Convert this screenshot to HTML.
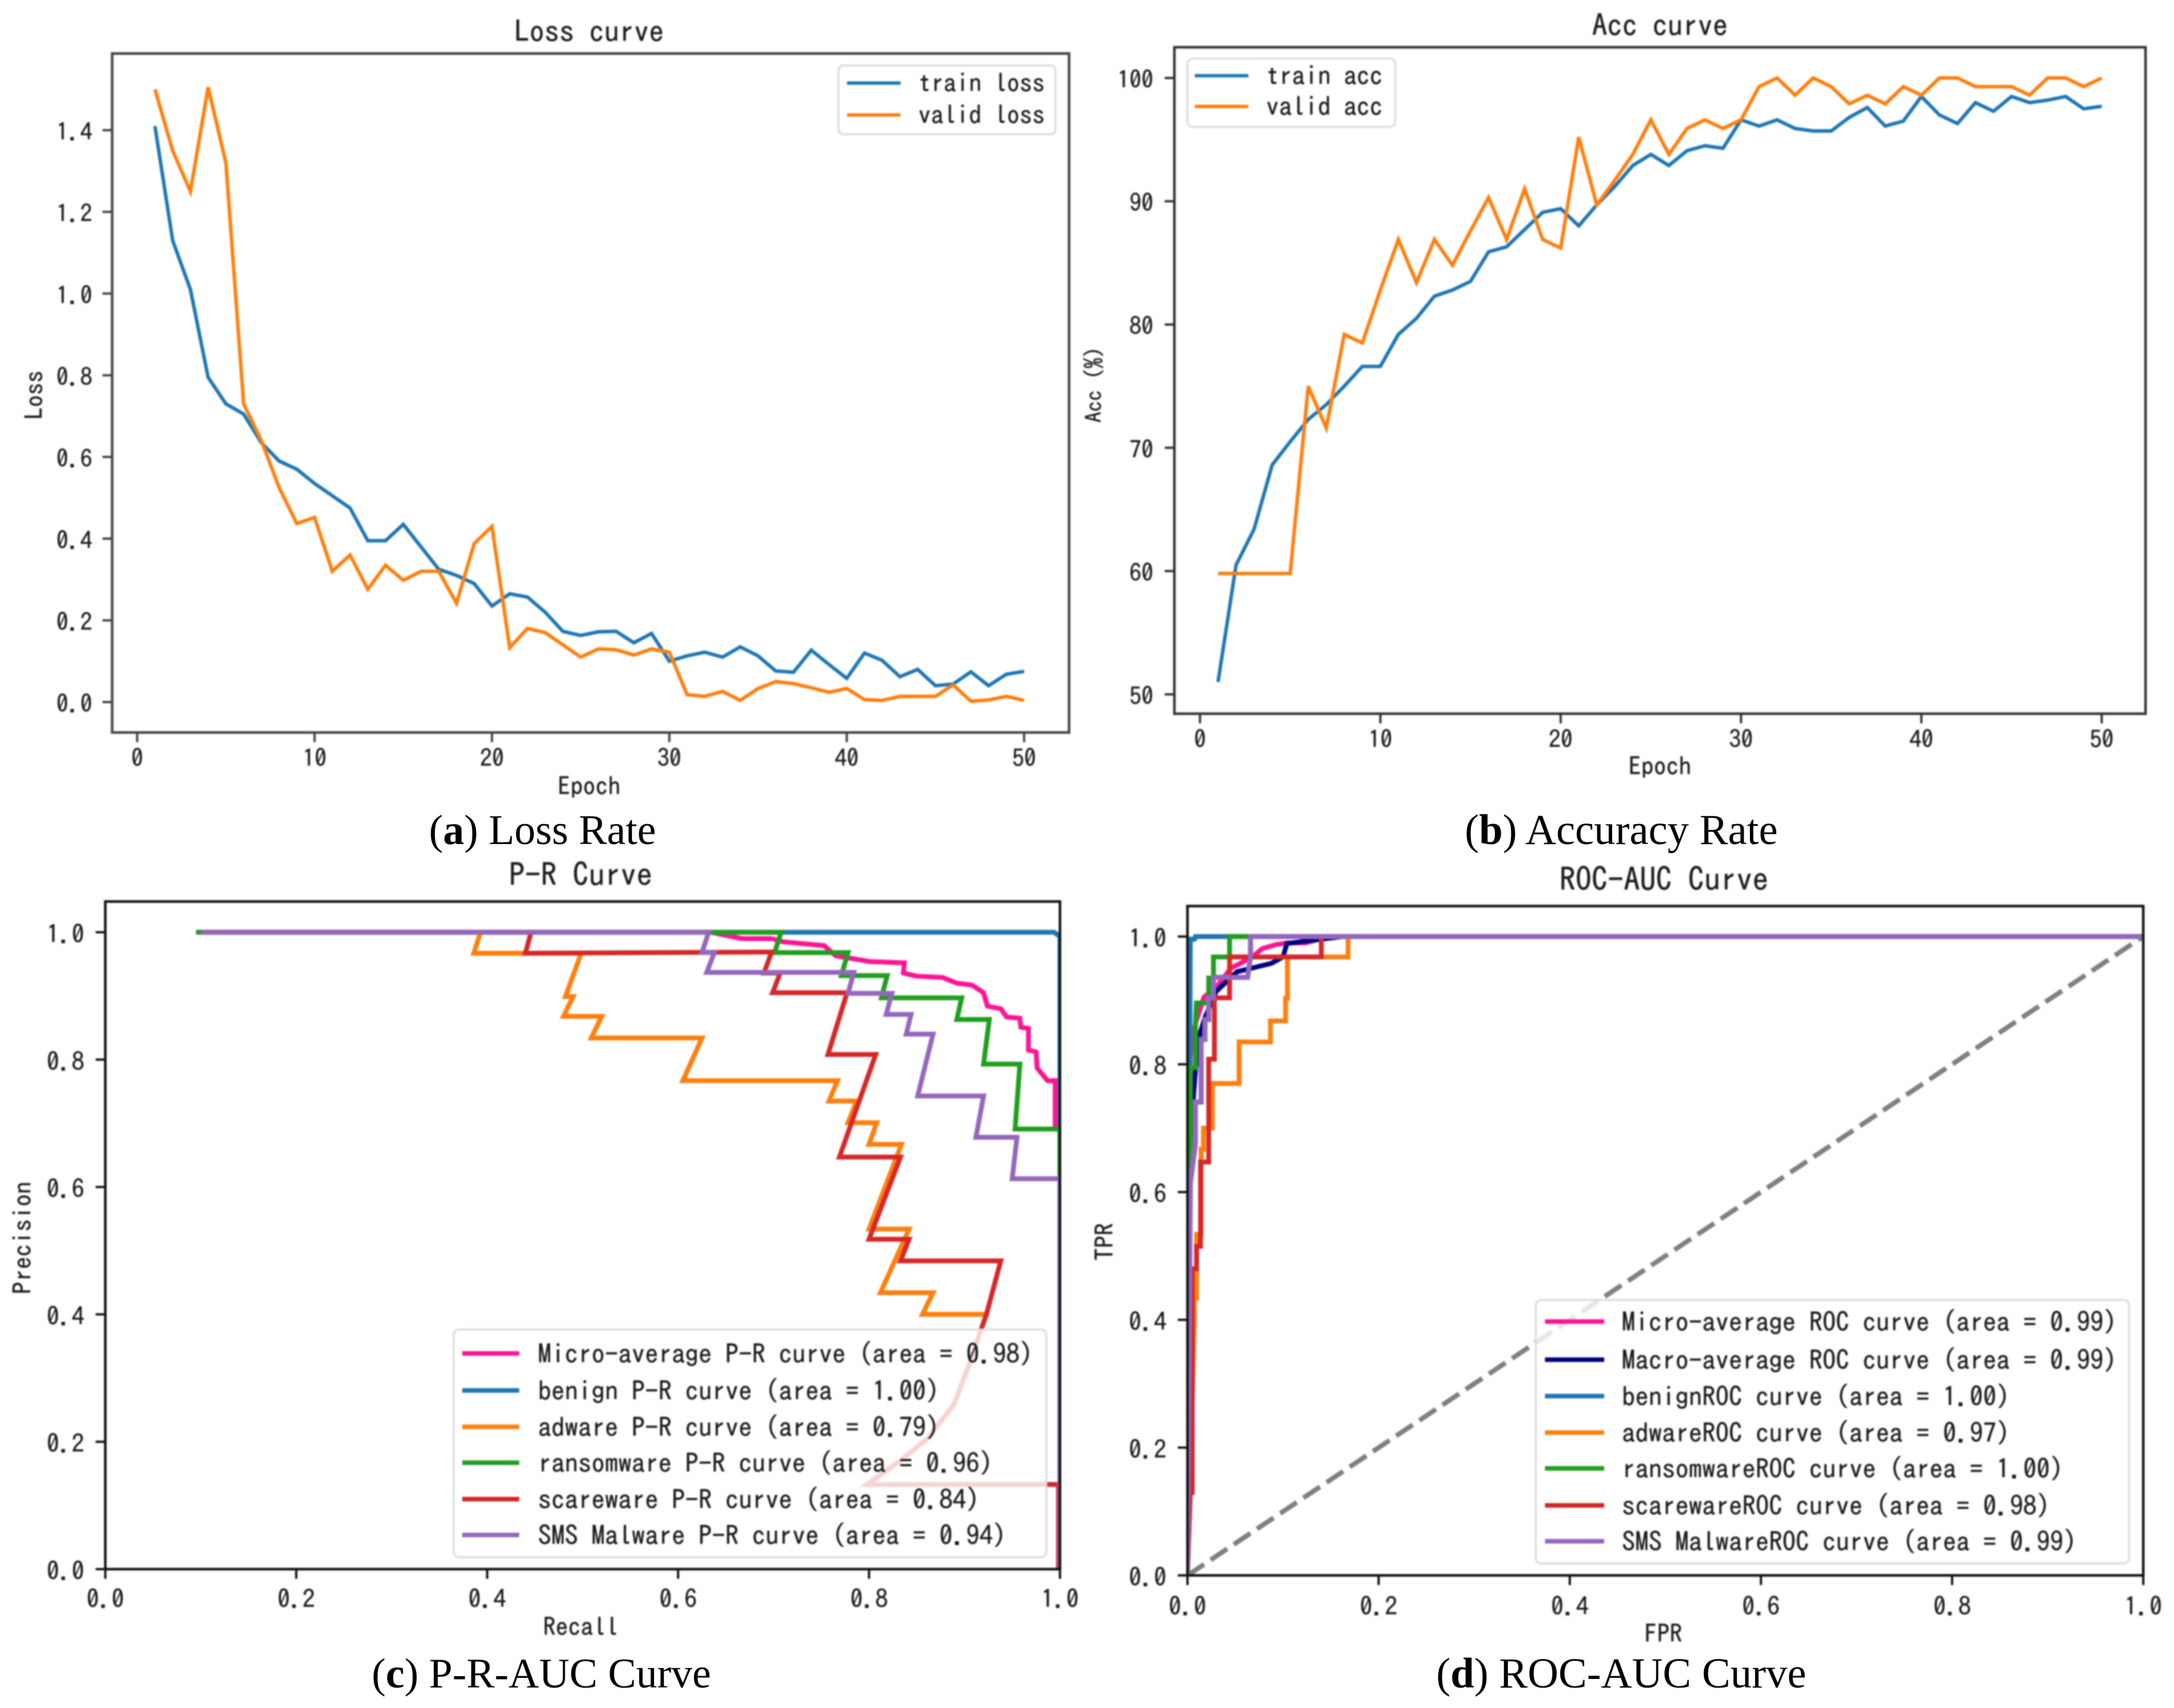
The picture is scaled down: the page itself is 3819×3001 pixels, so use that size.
<!DOCTYPE html>
<html lang="en">
<head>
<meta charset="utf-8">
<title>Training curves</title>
<style>
html,body{margin:0;padding:0;background:#fff;}
svg{display:block;}
.m{font-family:"IPAGothic","Liberation Mono",monospace;fill:#1c1c1c;stroke:#1c1c1c;stroke-width:.5;}
.cap{font-family:"Liberation Serif",serif;font-size:74px;fill:#000;text-anchor:middle;}
.leg{fill:rgba(255,255,255,0.8);stroke:#dcdcdc;stroke-width:3.5;}
</style>
</head>
<body>
<svg id="root" xmlns="http://www.w3.org/2000/svg" width="3819" height="3001" viewBox="0 0 3819 3001">
<defs>
<clipPath id="clip-c"><rect x="185" y="1584" width="1677" height="1173"/></clipPath>
<clipPath id="clip-d"><rect x="2086" y="1592" width="1679" height="1176"/></clipPath>
</defs>
<rect x="0" y="0" width="3819" height="3001" fill="#fff"/>
<g id="plots" style="filter:blur(1.2px)">
<g id="panel-a">
<text class="m" x="1035" y="55" font-size="52.5" text-anchor="middle" dominant-baseline="central">Loss curve</text>
<text class="m" x="1035" y="1381" font-size="44" text-anchor="middle" dominant-baseline="central">Epoch</text>
<text class="m" font-size="43" text-anchor="middle" dominant-baseline="central" transform="translate(60 694) rotate(-90)">Loss</text>
</g>
<g id="panel-b">
<text class="m" x="2916" y="44" font-size="53" text-anchor="middle" dominant-baseline="central">Acc curve</text>
<text class="m" x="2916" y="1346" font-size="44" text-anchor="middle" dominant-baseline="central">Epoch</text>
<text class="m" font-size="38" text-anchor="middle" dominant-baseline="central" transform="translate(1921 676) rotate(-90)">Acc (%)</text>
</g>
<g id="panel-c">
<text class="m" x="1020" y="1536" font-size="56" text-anchor="middle" dominant-baseline="central">P-R Curve</text>
<text class="m" x="1020" y="2858" font-size="44" text-anchor="middle" dominant-baseline="central">Recall</text>
<text class="m" font-size="44" text-anchor="middle" dominant-baseline="central" transform="translate(39 2175) rotate(-90)">Precision</text>
</g>
<g id="panel-d">
<text class="m" x="2923" y="1544" font-size="56.5" text-anchor="middle" dominant-baseline="central">ROC-AUC Curve</text>
<text class="m" x="2922" y="2870" font-size="44" text-anchor="middle" dominant-baseline="central">FPR</text>
<text class="m" font-size="44" text-anchor="middle" dominant-baseline="central" transform="translate(1940 2182) rotate(-90)">TPR</text>
</g>
</g>
<g id="captions">
<text class="cap" x="953" y="1483">(<tspan font-weight="bold">a</tspan>) Loss Rate</text>
<text class="cap" x="2848" y="1483" font-size="75" style="font-size:75px">(<tspan font-weight="bold">b</tspan>) Accuracy Rate</text>
<text class="cap" x="951" y="2965">(<tspan font-weight="bold">c</tspan>) P-R-AUC Curve</text>
<text class="cap" x="2848" y="2965" style="font-size:75px">(<tspan font-weight="bold">d</tspan>) ROC-AUC Curve</text>
</g>
</svg>
<script>
// ---- data: loss and accuracy per epoch ----
const epochs = [1,2,3,4,5,6,7,8,9,10,11,12,13,14,15,16,17,18,19,20,21,22,23,24,25,26,27,28,29,30,31,32,33,34,35,36,37,38,39,40,41,42,43,44,45,46,47,48,49,50];
const trainLoss = [1.41,1.13,1.01,.795,.73,.705,.635,.59,.57,.535,.505,.475,.395,.395,.435,.38,.325,.31,.29,.235,.265,.257,.22,.173,.163,.172,.173,.145,.168,.10,.113,.122,.11,.135,.113,.076,.073,.127,.092,.058,.12,.102,.062,.08,.04,.044,.074,.04,.068,.075];
const validLoss = [1.5,1.35,1.25,1.505,1.32,.73,.64,.525,.437,.452,.32,.36,.276,.335,.298,.32,.32,.242,.388,.43,.133,.18,.17,.14,.11,.13,.128,.115,.13,.122,.018,.014,.026,.004,.033,.05,.045,.035,.024,.033,.006,.004,.014,.014,.014,.042,.002,.005,.014,.004];
const trainAcc = [51,60.5,63.4,68.6,70.5,72.3,73.5,75,76.6,76.6,79.2,80.5,82.3,82.8,83.5,85.9,86.3,87.7,89.1,89.4,88,89.7,91.2,92.9,93.8,92.9,94.1,94.5,94.3,96.6,96.1,96.6,95.9,95.7,95.7,96.8,97.6,96.1,96.5,98.5,97,96.3,98,97.3,98.5,98,98.2,98.5,97.5,97.7];
const validAcc = [59.8,59.8,59.8,59.8,59.8,75,71.6,79.2,78.5,82.8,86.9,83.4,86.9,84.8,87.6,90.3,86.9,91,86.9,86.2,95.2,89.7,91.7,93.8,96.6,93.8,95.9,96.6,95.9,96.6,99.3,100,98.6,100,99.3,97.9,98.6,97.9,99.3,98.6,100,100,99.3,99.3,99.3,98.6,100,100,99.3,100];

// ---- data: P-R curves ----
const prMicroRecall = [.1,.634,.667,.698,.71,.753,.765,.801,.837,.836,.85,.877,.892,.908,.92,.924,.938,.944,.958,.959,.967,.967,.975,.976,.987,.995,.995,1,1];
const prMicroPrecision = [1,1,.99,.99,.985,.979,.963,.954,.952,.936,.931,.929,.92,.917,.905,.884,.88,.867,.865,.851,.849,.815,.812,.787,.767,.767,.696,.69,0];
const prBenignRecall = [.1,.994,1,1];
const prBenignPrecision = [1,1,.993,0];
const prAdwareRecall = [.1,.393,.386,.4985,.482,.49,.48,.52,.509,.625,.605,.767,.758,.787,.778,.808,.8,.834,.8,.842,.812,.867,.856,.923,.918,.905,.889,.862,.835,.798,.9985,.9985];
const prAdwarePrecision = [1,1,.967,.967,.899,.899,.868,.868,.834,.834,.767,.767,.735,.735,.701,.701,.667,.667,.534,.534,.434,.434,.4,.4,.379,.322,.259,.206,.173,.133,.133,0];
const prRansomRecall = [.095,.708,.701,.778,.771,.819,.813,.897,.892,.926,.92,.958,.953,1,1];
const prRansomPrecision = [1,1,.968,.968,.932,.932,.897,.897,.863,.863,.793,.793,.691,.691,0];
const prScareRecall = [.1,.446,.44,.698,.69,.707,.699,.777,.757,.807,.769,.833,.8,.842,.833,.938,.923,.918,.905,.889,.862,.835,.798,.9985,.9985];
const prScarePrecision = [1,1,.967,.969,.936,.936,.905,.905,.808,.808,.647,.647,.518,.518,.484,.484,.4,.379,.322,.259,.206,.173,.133,.133,0];
const prSmsRecall = [.1,.632,.625,.638,.63,.784,.778,.824,.818,.844,.839,.867,.851,.92,.912,.955,.95,1,1];
const prSmsPrecision = [1,1,.968,.968,.937,.937,.904,.904,.871,.871,.84,.84,.743,.743,.678,.678,.613,.613,0];

// ---- data: ROC curves ----
const rocMicroFpr = [0,.003,.0084,.0173,.032,.045,.068,.078,.0918,.104,.124,.14,.163,1];
const rocMicroTpr = [0,.813,.864,.905,.924,.95,.968,.981,.987,.99,.99,.997,1,1];
const rocMacroFpr = [0,.003,.0083,.0133,.018,.03,.052,.0878,.1,.104,.135,.163,1];
const rocMacroTpr = [0,.683,.79,.849,.872,.914,.945,.958,.968,.989,.995,1,1];
const rocBenignFpr = [0,.003,.0074,.0083,1];
const rocBenignTpr = [0,.996,.996,1,1];
const rocAdwareFpr = [0,.0072,.0072,.0095,.0095,.0143,.0143,.0167,.0167,.026,.026,.054,.054,.0868,.0868,.1026,.1026,.1046,.1046,.168,.168,1];
const rocAdwareTpr = [0,.4,.434,.434,.534,.534,.667,.667,.7,.7,.77,.77,.835,.835,.868,.868,.903,.903,.968,.968,1,1];
const rocRansomFpr = [0,.003,.003,.0084,.0084,.0093,.0222,.0222,.0272,.0272,.0441,.0441,1];
const rocRansomTpr = [0,.685,.795,.795,.864,.896,.896,.935,.935,.968,.968,1,1];
const rocScareFpr = [0,.003,.005,.005,.0095,.0095,.0137,.0137,.0222,.0222,.0282,.0282,.0441,.0441,.14,.14,1];
const rocScareTpr = [0,.13,.13,.48,.48,.515,.515,.647,.647,.808,.808,.904,.904,.968,.968,1,1];
const rocSmsFpr = [0,.003,.003,.0083,.0083,.0143,.0143,.0183,.0183,.0222,.0222,.0272,.0272,.0629,.066,.066,1];
const rocSmsTpr = [0,.614,.614,.676,.741,.741,.839,.839,.87,.87,.904,.904,.936,.936,.969,1,1];
const chanceFpr = [0,1];
const chanceTpr = [0,1];

// ---- ticks ----
const epochTicks = [0,10,20,30,40,50];
const epochTickLabels = ['0','10','20','30','40','50'];
const lossTicks = [0,.2,.4,.6,.8,1,1.2,1.4];
const lossTickLabels = ['0.0','0.2','0.4','0.6','0.8','1.0','1.2','1.4'];
const accTicks = [50,60,70,80,90,100];
const accTickLabels = ['50','60','70','80','90','100'];
const unitTicks = [0,.2,.4,.6,.8,1];
const unitTickLabels = ['0.0','0.2','0.4','0.6','0.8','1.0'];

// ---- legend labels ----
const lossLegend = ['train loss','valid loss'];
const accLegend = ['train acc','valid acc'];
const prLegend = ['Micro-average P-R curve (area = 0.98)','benign P-R curve (area = 1.00)','adware P-R curve (area = 0.79)','ransomware P-R curve (area = 0.96)','scareware P-R curve (area = 0.84)','SMS Malware P-R curve (area = 0.94)'];
const rocLegend = ['Micro-average ROC curve (area = 0.99)','Macro-average ROC curve (area = 0.99)','benignROC curve (area = 1.00)','adwareROC curve (area = 0.97)','ransomwareROC curve (area = 1.00)','scarewareROC curve (area = 0.98)','SMS MalwareROC curve (area = 0.99)'];

const NS = 'http://www.w3.org/2000/svg';
const BLUE = '#1f77b4', ORANGE = '#ff7f0e', GREEN = '#1f9e1f', RED = '#d62728', PURPLE = '#9467bd', PINK = '#ff1493', NAVY = '#000080';

function scale(d0, d1, r0, r1) {
  return function (v) { return r0 + (v - d0) * (r1 - r0) / (d1 - d0); };
}
function svgEl(tag, parent) {
  const el = document.createElementNS(NS, tag);
  parent.appendChild(el);
  return el;
}
function drawSeries(parent, xs, ys, sx, sy, color, width, name, clip, dash) {
  const path = svgEl('path', parent);
  let d = '';
  for (let i = 0; i < xs.length; i++) {
    d += (i ? 'L' : 'M') + sx(xs[i]).toFixed(1) + ' ' + sy(ys[i]).toFixed(1);
  }
  path.setAttribute('d', d);
  path.setAttribute('fill', 'none');
  path.setAttribute('stroke', color);
  path.setAttribute('stroke-width', width);
  path.setAttribute('stroke-linejoin', 'miter');
  if (clip) path.setAttribute('clip-path', 'url(#' + clip + ')');
  if (dash) path.setAttribute('stroke-dasharray', dash);
  
  
}
function drawAxes(parent, box, sx, sy, xTicks, xLabels, yTicks, yLabels, o) {
  const frame = svgEl('rect', parent);
  frame.setAttribute('x', box.left);
  frame.setAttribute('y', box.top);
  frame.setAttribute('width', box.right - box.left);
  frame.setAttribute('height', box.bottom - box.top);
  frame.setAttribute('fill', 'none');
  frame.setAttribute('stroke', o.spine);
  frame.setAttribute('stroke-width', 4.5);
  
  
  xTicks.forEach(function (t, i) {
    const tick = svgEl('line', parent);
    tick.setAttribute('x1', sx(t));
    tick.setAttribute('x2', sx(t));
    tick.setAttribute('y1', box.bottom);
    tick.setAttribute('y2', box.bottom + 17);
    tick.setAttribute('stroke', o.spine);
    tick.setAttribute('stroke-width', 4);
    
    
    const label = svgEl('text', parent);
    label.setAttribute('class', 'm');
    label.setAttribute('x', sx(t));
    label.setAttribute('y', box.bottom + o.xGap);
    label.setAttribute('font-size', o.tickSize);
    label.setAttribute('text-anchor', 'middle');
    label.setAttribute('dominant-baseline', 'central');
    label.textContent = xLabels[i];
    
    
  });
  yTicks.forEach(function (t, i) {
    const tick = svgEl('line', parent);
    tick.setAttribute('x1', box.left - 17);
    tick.setAttribute('x2', box.left);
    tick.setAttribute('y1', sy(t));
    tick.setAttribute('y2', sy(t));
    tick.setAttribute('stroke', o.spine);
    tick.setAttribute('stroke-width', 4);
    
    
    const label = svgEl('text', parent);
    label.setAttribute('class', 'm');
    label.setAttribute('x', box.left - o.yGap);
    label.setAttribute('y', sy(t) + 3);
    label.setAttribute('font-size', o.tickSize);
    label.setAttribute('text-anchor', 'end');
    label.setAttribute('dominant-baseline', 'central');
    label.textContent = yLabels[i];
    
    
  });
}
function drawLegend(parent, box, labels, colors, rows, lineX0, lineX1, textX, size, lineWidth) {
  const group = svgEl('g', parent);
  
  
  const bg = svgEl('rect', group);
  bg.setAttribute('x', box.left);
  bg.setAttribute('y', box.top);
  bg.setAttribute('width', box.right - box.left);
  bg.setAttribute('height', box.bottom - box.top);
  bg.setAttribute('rx', 9);
  bg.setAttribute('class', 'leg');
  
  
  labels.forEach(function (txt, i) {
    const swatch = svgEl('line', group);
    swatch.setAttribute('x1', lineX0);
    swatch.setAttribute('x2', lineX1);
    swatch.setAttribute('y1', rows[i]);
    swatch.setAttribute('y2', rows[i]);
    swatch.setAttribute('stroke', colors[i]);
    swatch.setAttribute('stroke-width', lineWidth);
    
    
    const label = svgEl('text', group);
    label.setAttribute('class', 'm');
    label.setAttribute('x', textX);
    label.setAttribute('y', rows[i]);
    label.setAttribute('font-size', size);
    label.setAttribute('dominant-baseline', 'central');
    label.textContent = txt;
    
    
  });
}

// Panel (a)
(function () {
  const g = document.getElementById('panel-a');
  const box = {left: 197, right: 1878, top: 94, bottom: 1287};
  const sx = scale(0, 50, 241, 1799), sy = scale(0, 1.4, 1233.5, 228.7);
  drawSeries(g, epochs, trainLoss, sx, sy, BLUE, 6.2, 'train-loss-line');
  drawSeries(g, epochs, validLoss, sx, sy, ORANGE, 6.2, 'valid-loss-line');
  drawAxes(g, box, sx, sy, epochTicks, epochTickLabels, lossTicks, lossTickLabels, {spine: '#444', tickSize: 42, xGap: 45, yGap: 35});
  drawLegend(g, {left: 1473, right: 1854, top: 115, bottom: 236}, lossLegend, [BLUE, ORANGE], [146, 202], 1488, 1582, 1613, 44.5, 6);
})();
// Panel (b)
(function () {
  const g = document.getElementById('panel-b');
  const box = {left: 2063, right: 3769, top: 83, bottom: 1254};
  const sx = scale(0, 50, 2108, 3692), sy = scale(50, 100, 1220, 137);
  drawSeries(g, epochs, trainAcc, sx, sy, BLUE, 6.2, 'train-acc-line');
  drawSeries(g, epochs, validAcc, sx, sy, ORANGE, 6.2, 'valid-acc-line');
  drawAxes(g, box, sx, sy, epochTicks, epochTickLabels, accTicks, accTickLabels, {spine: '#333', tickSize: 42, xGap: 45, yGap: 37});
  drawLegend(g, {left: 2086, right: 2451, top: 103, bottom: 223}, accLegend, [BLUE, ORANGE], [133, 187], 2099, 2193, 2224, 45.5, 6);
})();
// Panel (c)
(function () {
  const g = document.getElementById('panel-c');
  const box = {left: 185, right: 1862, top: 1584, bottom: 2757};
  const sx = scale(0, 1, 185, 1862), sy = scale(0, 1, 2757, 1638);
  drawSeries(g, prMicroRecall, prMicroPrecision, sx, sy, PINK, 8.5, 'pr-micro-average-curve', 'clip-c');
  drawSeries(g, prBenignRecall, prBenignPrecision, sx, sy, BLUE, 8.5, 'pr-benign-curve', 'clip-c');
  drawSeries(g, prAdwareRecall, prAdwarePrecision, sx, sy, ORANGE, 8.5, 'pr-adware-curve', 'clip-c');
  drawSeries(g, prRansomRecall, prRansomPrecision, sx, sy, GREEN, 8.5, 'pr-ransomware-curve', 'clip-c');
  drawSeries(g, prScareRecall, prScarePrecision, sx, sy, RED, 8.5, 'pr-scareware-curve', 'clip-c');
  drawSeries(g, prSmsRecall, prSmsPrecision, sx, sy, PURPLE, 8.5, 'pr-sms-malware-curve', 'clip-c');
  drawAxes(g, box, sx, sy, unitTicks, unitTickLabels, unitTicks, unitTickLabels, {spine: '#111', tickSize: 44, xGap: 52, yGap: 37});
  drawLegend(g, {left: 797, right: 1838, top: 2336, bottom: 2736}, prLegend, [PINK, BLUE, ORANGE, GREEN, RED, PURPLE], [2378, 2443, 2507, 2570, 2634, 2697], 812, 912, 945, 47, 8);
})();
// Panel (d)
(function () {
  const g = document.getElementById('panel-d');
  const box = {left: 2086, right: 3765, top: 1592, bottom: 2768};
  const sx = scale(0, 1, 2086, 3765), sy = scale(0, 1, 2768, 1645.5);
  drawSeries(g, rocMicroFpr, rocMicroTpr, sx, sy, PINK, 8.5, 'roc-micro-average-curve', 'clip-d');
  drawSeries(g, rocMacroFpr, rocMacroTpr, sx, sy, NAVY, 8.5, 'roc-macro-average-curve', 'clip-d');
  drawSeries(g, rocBenignFpr, rocBenignTpr, sx, sy, BLUE, 8.5, 'roc-benign-curve', 'clip-d');
  drawSeries(g, rocAdwareFpr, rocAdwareTpr, sx, sy, ORANGE, 8.5, 'roc-adware-curve', 'clip-d');
  drawSeries(g, rocRansomFpr, rocRansomTpr, sx, sy, GREEN, 8.5, 'roc-ransomware-curve', 'clip-d');
  drawSeries(g, rocScareFpr, rocScareTpr, sx, sy, RED, 8.5, 'roc-scareware-curve', 'clip-d');
  drawSeries(g, rocSmsFpr, rocSmsTpr, sx, sy, PURPLE, 9, 'roc-sms-malware-curve', 'clip-d');
  drawSeries(g, chanceFpr, chanceTpr, sx, sy, '#808080', 8.5, 'roc-chance-diagonal', 'clip-d', '35 14');
  drawAxes(g, box, sx, sy, unitTicks, unitTickLabels, unitTicks, unitTickLabels, {spine: '#111', tickSize: 44, xGap: 54, yGap: 37});
  drawLegend(g, {left: 2698, right: 3740, top: 2284, bottom: 2747}, rocLegend, [PINK, NAVY, BLUE, ORANGE, GREEN, RED, PURPLE], [2322, 2389, 2453, 2517, 2580, 2645, 2708], 2714, 2818, 2849, 47, 8);
})();
</script>
</body>
</html>
